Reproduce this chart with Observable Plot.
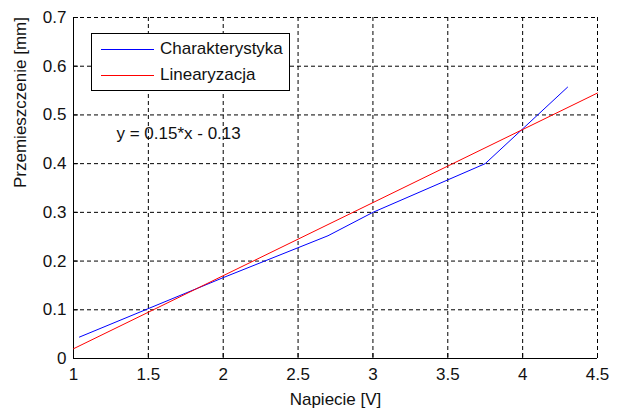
<!DOCTYPE html>
<html>
<head>
<meta charset="utf-8">
<script src="https://cdn.jsdelivr.net/npm/d3@7"></script>
<script src="https://cdn.jsdelivr.net/npm/@observablehq/plot@0.6"></script>
<style>
  body { margin: 0; background: #fff; }
  #chart { position: relative; width: 622px; height: 409px; font-family: "Liberation Sans", Arial, sans-serif; }
  #legend {
    position: absolute; left: 91px; top: 33px; width: 199px; height: 58px;
    box-sizing: border-box; border: 1px solid #000; background: #fff;
  }
  #legend .row { position: absolute; left: 9px; height: 20px; display: flex; align-items: center; }
  #legend .swatch { width: 53px; height: 0; border-top: 1px solid; margin-right: 6px; }
  #legend .label { font-size: 17px; color: #111; line-height: 20px; white-space: nowrap; }
</style>
</head>
<body>
<div id="chart"><div id="legend"></div></div>
<script>
// Measured characteristic: voltage [V] vs displacement [mm]
const charX = [1.04, 2.0, 2.7, 3.0, 3.75, 4.3];
const charY = [0.044, 0.166, 0.252, 0.300, 0.400, 0.557];

// Linear fit y = 0.15*x - 0.13, drawn across the voltage range
const fitSlope = 0.15;
const fitIntercept = -0.13;
const linX = [1.0, 4.5];
const linY = [0.02, 0.545];

const seriesNames = ["Charakterystyka", "Linearyzacja"];
const seriesColors = ["#0000ff", "#ff0000"];

const xTicks = [1, 1.5, 2, 2.5, 3, 3.5, 4, 4.5];
const yTicks = [0, 0.1, 0.2, 0.3, 0.4, 0.5, 0.6, 0.7];

const xLabel = "Napiecie [V]";
const yLabel = "Przemieszczenie [mm]";
const eqText = `y = ${fitSlope}*x - ${Math.abs(fitIntercept)}`;
const eqPos = { x: 1.287, y: 0.462 };

const charData = charX.map((x, i) => ({ x, y: charY[i] }));
const linData = linX.map((x, i) => ({ x, y: linY[i] }));

const W = 622, H = 409, mL = 73, mR = 25, mT = 17, mB = 51;
const frameW = W - mL - mR, frameH = H - mT - mB;
const font = "Liberation Sans, Arial, sans-serif";
const ink = "#111";
const dash = "4,3";

const chart = Plot.plot({
  width: W,
  height: H,
  marginLeft: mL,
  marginRight: mR,
  marginTop: mT,
  marginBottom: mB,
  style: { fontFamily: font, fontSize: "17px", color: ink, background: "#fff", overflow: "visible" },
  x: { domain: [1, 4.5] },
  y: { domain: [0, 0.7] },
  marks: [
    Plot.gridX(xTicks, { stroke: "#000", strokeOpacity: 1, strokeDasharray: dash }),
    Plot.gridY(yTicks, { stroke: "#000", strokeOpacity: 1, strokeDasharray: dash }),
    // inward tick marks along the bottom and left axes
    Plot.tickX(xTicks, { x: d => d, stroke: "#000", insetTop: frameH - 5 }),
    Plot.tickY(yTicks, { y: d => d, stroke: "#000", insetRight: frameW - 5 }),
    Plot.ruleX([1], { stroke: "#000" }),
    Plot.ruleY([0], { stroke: "#000" }),
    Plot.axisX(xTicks, { tickSize: 0, tickPadding: 9, label: null, tickFormat: d => String(d), fill: ink }),
    Plot.axisY(yTicks, { tickSize: 0, tickPadding: 7, label: null, tickFormat: d => String(d), fill: ink }),
    Plot.line(charData, { x: "x", y: "y", stroke: seriesColors[0], strokeWidth: 1 }),
    Plot.line(linData, { x: "x", y: "y", stroke: seriesColors[1], strokeWidth: 1 }),
    Plot.text([eqText], { x: eqPos.x, y: eqPos.y, text: d => d, textAnchor: "start", fill: ink, fontSize: 17 }),
    Plot.text([xLabel], { text: d => d, frameAnchor: "bottom", lineAnchor: "bottom", dy: 46, fill: ink, fontSize: 17 }),
    Plot.text([yLabel], { text: d => d, frameAnchor: "left", rotate: -90, lineAnchor: "bottom", dx: -48, fill: ink, fontSize: 17 })
  ]
});
document.getElementById("chart").insertBefore(chart, document.getElementById("legend"));

// Legend box: one row per series with a line swatch
const legendItems = seriesNames.map((name, i) => ({ name, color: seriesColors[i] }));
const rows = d3.select("#legend").selectAll("div.row").data(legendItems).join("div")
  .attr("class", "row")
  .style("top", (d, i) => `${5 + i * 26}px`);
rows.append("div").attr("class", "swatch").style("border-top-color", d => d.color);
rows.append("div").attr("class", "label").text(d => d.name);
</script>
</body>
</html>
